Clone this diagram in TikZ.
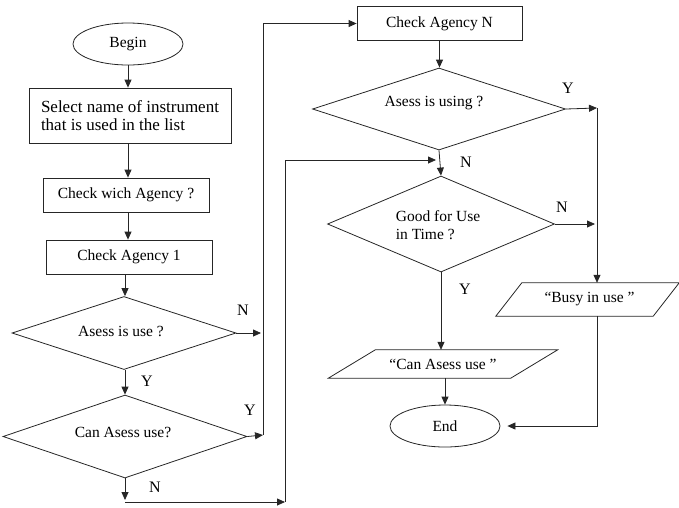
\documentclass[tikz,border=0pt]{standalone}
\usepackage{fontspec}
\setmainfont{Liberation Serif}
\usetikzlibrary{arrows.meta,shapes.geometric}
\begin{document}
\begin{tikzpicture}[x=1pt,y=-1pt,
  every node/.style={font=\fontsize{15.5}{18}\selectfont},
  line/.style={line width=0.8pt, draw=black!85},
  arr/.style={line, -{Triangle[length=8pt,width=7pt]}},
  box/.style={line, draw, rectangle, inner sep=2pt},
  term/.style={line, draw, ellipse, minimum width=110pt, minimum height=42pt, inner sep=0pt},
  dia/.style={line, draw, diamond, inner sep=0pt},
  para/.style={rectangle, inner sep=0pt},
  lab/.style={font=\fontsize{16}{18}\selectfont, inner sep=0pt}]
\useasboundingbox (0,0) rectangle (679,507);

% left column
\node[term] (begin) at (128,44) {Begin};
\node[box, minimum width=202pt, minimum height=55pt, align=left] (select) at (130,115.5)
  {\fontsize{17}{21}\selectfont Select name of instrument\\\fontsize{17}{21}\selectfont that is used in the list};
\node[box, minimum width=166pt, minimum height=34pt] (which) at (126,195) {Check wich Agency ?};
\node[box, minimum width=166pt, minimum height=34pt] (ag1) at (129,257) {Check Agency 1};
\node[dia, minimum width=224pt, minimum height=73pt] (d1) at (124,333) {};
\node at (121,331) (t1) {Asess is use ?};
\node[dia, minimum width=244pt, minimum height=83pt] (d2) at (125,436.5) {};
\node at (123,432) (t2) {Can Asess use?};

% right column
\node[box, minimum width=165pt, minimum height=34pt] (agN) at (439.5,23.5) {Check Agency N};
\node[dia, minimum width=253pt, minimum height=82pt] (d3) at (439,109) {};
\node at (434,103) (t3) {Asess is using ?};
\node[dia, minimum width=227pt, minimum height=96pt] (d4) at (441,224) {};
\node[align=left] at (438,225) (t4) {Good for Use\\in Time ?};
\node[para, minimum width=182pt, minimum height=28pt] (can) at (443,364) {``Can Asess use ''};
\draw[line] ([xshift=23.5pt]can.north west) -- ([xshift=23.5pt]can.north east)
  -- ([xshift=-23.5pt]can.south east) -- ([xshift=-23.5pt]can.south west) -- cycle;
\node[para, minimum width=157pt, minimum height=33pt] (busy) at (587.5,299.5) {\hspace*{4pt}``Busy in use ''};
\draw[line] ([xshift=13pt]busy.north west) -- ([xshift=13pt]busy.north east)
  -- ([xshift=-13pt]busy.south east) -- ([xshift=-13pt]busy.south west) -- cycle;
\node[term] (end) at (445,426) {End};

% junction coordinates
\coordinate (j1) at (261,333);
\coordinate (j2) at (263,435);
\coordinate (k1) at (125,500);
\coordinate (k2) at (125,502);
\coordinate (k3) at (285,502);
\coordinate (k4) at (436,160);
\coordinate (r1) at (597,108);
\coordinate (r2) at (595,224);

% left connectors
\draw[arr] (begin.south) -- (begin.south |- select.north);
\draw[arr] (select.south -| begin) -- (which.north -| begin);
\draw[arr] (which.north -| begin) ++(0,0) (which.south -| begin) -- (ag1.north -| begin);
\draw[arr] (ag1.south -| d2) -- (d1.north -| d2);
\draw[arr] (d1.south -| d2) -- (d2.north);
\draw[arr] (d1.east) -- (j1);
\draw[arr] (d2.east) -- (j2);
\draw[arr] (j2) -- (j2 |- agN.west) -- (agN.west);
\draw[arr] (d2.south) -- (k1);
\draw[arr] (k2) -- (k3);
\draw[arr] (k3) -- (k3 |- k4) -- (k4);

% right connectors
\draw[arr] (agN.south) -- (agN.south |- d3.north);
\draw[arr] (d3.south) -- (d4.north);
\draw[arr] (d3.east) -- (r1);
\draw[arr] (r1) -- (r1 |- busy.north);
\draw[arr] (d4.east) -- (r2);
\draw[arr] (d4.south) -- (d4.south |- can.north);
\draw[arr] (end.north |- can.south) -- (end.north);
\draw[arr, shorten >=7pt] (busy.south -| r1) |- (end.east);

% labels
\node[lab] (n1) at (243,310) {N};
\node[lab] (y1) at (147,381) {Y};
\node[lab] (y2) at (250,410) {Y};
\node[lab] (n2) at (155,487) {N};
\node[lab] (y3) at (568,88) {Y};
\node[lab] (n3) at (466,162) {N};
\node[lab] (n4) at (562,207) {N};
\node[lab] (y4) at (465,289) {Y};
\end{tikzpicture}
\end{document}
